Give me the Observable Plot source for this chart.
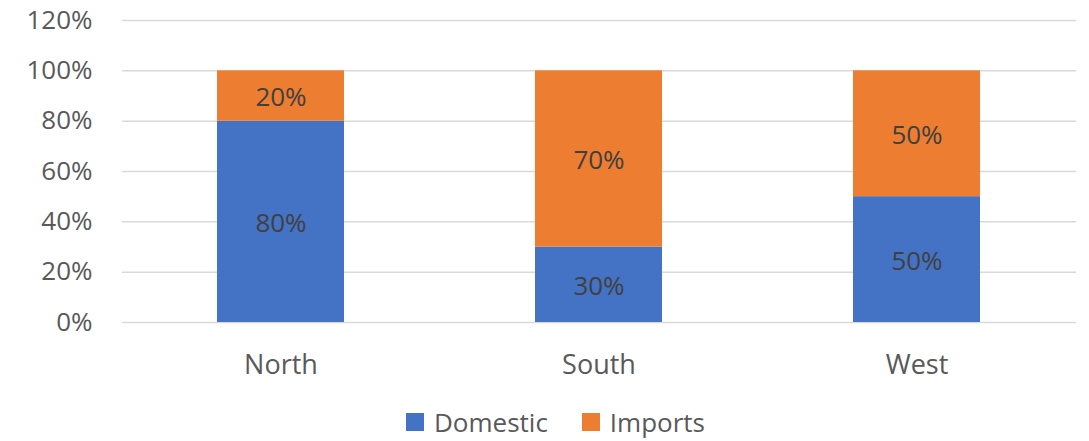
<!DOCTYPE html>
<html>
<head>
<meta charset="utf-8">
<script src="https://cdn.jsdelivr.net/npm/d3@7"></script>
<script src="https://cdn.jsdelivr.net/npm/@observablehq/plot@0.6"></script>
<style>
  html, body { margin: 0; padding: 0; background: #fff; }
  body { width: 1089px; height: 441px; overflow: hidden; font-family: "Open Sans", sans-serif; }
  #chart svg { display: block; }
  #legend { display: flex; justify-content: center; align-items: center; gap: 34px; font-size: 26px; line-height: 1; color: #595959; height: 30px; margin-left: 22px; padding-top: 17px; }
  .item { display: flex; align-items: center; gap: 10px; }
  .sw { width: 18px; height: 18px; display: inline-block; }
</style>
</head>
<body>
<div id="chart"></div>
<div id="legend"></div>
<script>
const regions = ["North", "South", "West"];
const seriesNames = ["Domestic", "Imports"];
const domestic = [0.8, 0.3, 0.5];
const imports = [0.2, 0.7, 0.5];
const colors = ["#4472C4", "#ED7D31"];
const yTicks = [0, 0.2, 0.4, 0.6, 0.8, 1.0, 1.2];

const data = [];
seriesNames.forEach((s, si) => {
  const vals = si === 0 ? domestic : imports;
  regions.forEach((r, i) => data.push({region: r, series: s, value: vals[i]}));
});

const pct = d => Math.round(d * 100) + "%";

const chart = Plot.plot({
  width: 1089,
  height: 390,
  marginTop: 20,
  marginBottom: 68,
  marginLeft: 122,
  marginRight: 13,
  style: { fontFamily: "Open Sans, sans-serif", fontSize: "26px", color: "#595959", background: "#fff" },
  x: { domain: regions, paddingInner: 0.6, paddingOuter: 0.3, label: null },
  y: { domain: [0, 1.2], label: null },
  color: { domain: seriesNames, range: colors },
  marks: [
    Plot.gridY(yTicks, { stroke: "#d9d9d9", strokeOpacity: 1, strokeWidth: 1.5 }),
    Plot.barY(data, { x: "region", y: "value", fill: "series", order: seriesNames }),
    Plot.text(data, Plot.stackY({ x: "region", y: "value", z: "series", order: seriesNames, text: d => pct(d.value), fill: "#404040", fontSize: 26, dy: 2 })),
    Plot.axisY(yTicks, { tickSize: 0, tickPadding: 30, tickFormat: pct, fill: "#595959", fontSize: 26 }),
    Plot.axisX({ tickSize: 0, tickPadding: 32, fill: "#595959", fontSize: 27 })
  ]
});
document.getElementById("chart").appendChild(chart);

const legend = document.getElementById("legend");
seriesNames.forEach((s, i) => {
  const it = document.createElement("div");
  it.className = "item";
  const sw = document.createElement("span");
  sw.className = "sw";
  sw.style.background = colors[i];
  const t = document.createElement("span");
  t.textContent = s;
  it.appendChild(sw); it.appendChild(t);
  legend.appendChild(it);
});
</script>
</body>
</html>
